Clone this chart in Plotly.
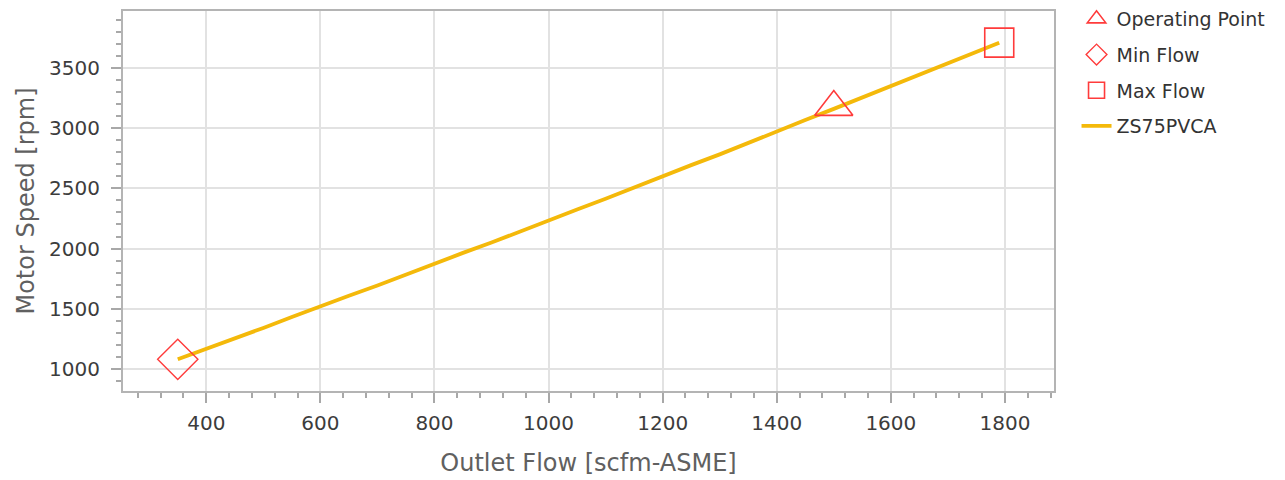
import plotly.graph_objects as go

# Data
flow = [350, 400, 450, 500, 550, 600, 650, 700, 750, 800, 850, 900, 950, 1000, 1050,
        1100, 1150, 1200, 1250, 1300, 1350, 1400, 1450, 1500, 1550, 1600, 1650, 1700, 1750, 1790]
speed = [1080, 1165, 1256, 1341, 1432, 1516, 1608, 1693, 1786, 1871, 1964, 2050, 2144, 2230, 2325,
         2413, 2508, 2597, 2693, 2782, 2879, 2970, 3067, 3160, 3256, 3348, 3446, 3537, 3635, 3710]
op_point = ([1500], [3175])
min_flow = ([350], [1080])
max_flow = ([1790], [3710])
series_name = "ZS75PVCA"
x_ticks = [400, 600, 800, 1000, 1200, 1400, 1600, 1800]
y_ticks = [1000, 1500, 2000, 2500, 3000, 3500]

FONT = "DejaVu Sans"
RED = "#ff3b3b"
GOLD = "#f4b90a"

fig = go.Figure()
fig.add_trace(go.Scatter(x=flow, y=speed, mode="lines", name=series_name, legendgroup="d",
                         legendrank=4, line=dict(color=GOLD, width=3.8)))
fig.add_trace(go.Scatter(x=op_point[0], y=op_point[1], mode="markers", name="Operating Point",
                         legendgroup="a", legendrank=1,
                         marker=dict(symbol="triangle-up-open", size=33, color=RED, line=dict(width=1.6, color=RED))))
fig.add_trace(go.Scatter(x=min_flow[0], y=min_flow[1], mode="markers", name="Min Flow",
                         legendgroup="b", legendrank=2,
                         marker=dict(symbol="diamond-open", size=31, color=RED, line=dict(width=1.4, color=RED))))
fig.add_trace(go.Scatter(x=max_flow[0], y=max_flow[1], mode="markers", name="Max Flow",
                         legendgroup="c", legendrank=3,
                         marker=dict(symbol="square-open", size=29, color=RED, line=dict(width=1.6, color=RED))))

# page body has an 8px offset, so the figure is sized/margined to compensate
fig.update_layout(
    width=1277, height=472,
    margin=dict(l=115, r=231, t=3, b=89, autoexpand=False),
    paper_bgcolor="white", plot_bgcolor="white",
    font=dict(family=FONT, color="#3c3c3c"),
    showlegend=True,
    legend=dict(x=1.0242, y=1.029, xanchor="left", yanchor="top",
                font=dict(family=FONT, size=19, color="#333333"),
                tracegroupgap=8, traceorder="grouped", bgcolor="rgba(0,0,0,0)",
                itemwidth=30),
)

fig.update_xaxes(
    range=[254, 1886], tickvals=x_ticks, ticks="outside", ticklen=10, tickwidth=1.5,
    tickcolor="#a8a8a8", showline=True, linecolor="#b4b4b4", linewidth=2, mirror=True,
    showgrid=True, gridcolor="#e2e2e2", gridwidth=1.5, zeroline=False, automargin=False,
    tickfont=dict(family=FONT, size=20, color="#3c3c3c"), ticklabelstandoff=3,
    minor=dict(dtick=40, tick0=0, ticks="outside", ticklen=5, tickwidth=1.5, tickcolor="#a8a8a8", showgrid=False),
    title=dict(text="Outlet Flow [scfm-ASME]", font=dict(family=FONT, size=24, color="#606060"), standoff=20),
)
fig.update_yaxes(
    range=[817, 3973], tickvals=y_ticks, ticks="outside", ticklen=10, tickwidth=1.5,
    tickcolor="#a8a8a8", showline=True, linecolor="#b4b4b4", linewidth=2, mirror=True,
    showgrid=True, gridcolor="#e2e2e2", gridwidth=1.5, zeroline=False, automargin=False,
    tickfont=dict(family=FONT, size=20, color="#3c3c3c"), ticklabelstandoff=7,
    minor=dict(dtick=100, tick0=0, ticks="outside", ticklen=5, tickwidth=1.5, tickcolor="#a8a8a8", showgrid=False),
    title=dict(text="Motor Speed [rpm]", font=dict(family=FONT, size=24, color="#606060"), standoff=8),
)

fig.write_html("out.html")
